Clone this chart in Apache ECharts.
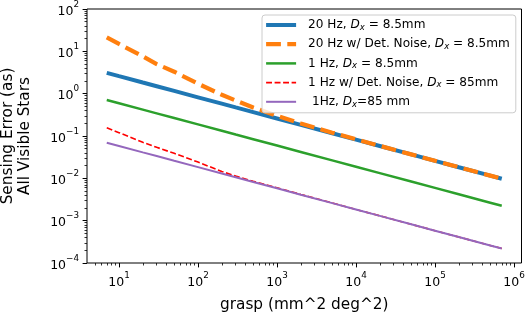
<!DOCTYPE html>
<html><head><meta charset="utf-8">
<script src="https://cdn.jsdelivr.net/npm/echarts@6/dist/echarts.min.js"></script>
<style>html,body{margin:0;padding:0;background:#fff}#c{width:526px;height:312px}</style>
</head><body><div id="c"></div>
<script>
// grasp values (mm^2 deg^2)
const grasp = [7, 10, 20, 30, 50, 100, 200, 300, 500, 1000, 2000, 5000, 1e4, 2e4, 5e4, 1e5, 2e5, 5e5, 7e5];
// Sensing error (as)
const hz20 = [3.10, 2.59, 1.83, 1.50, 1.16, 0.82, 0.58, 0.473, 0.367, 0.259, 0.183, 0.116, 0.082, 0.058, 0.0367, 0.0259, 0.0183, 0.0116, 0.0098];
const hz20Noise = [21.4, 15.0, 7.6, 5.0, 3.3, 1.72, 0.94, 0.69, 0.47, 0.30, 0.198, 0.120, 0.0833, 0.0585, 0.0368, 0.026, 0.0183, 0.0116, 0.0098];
const hz1 = [0.711, 0.595, 0.420, 0.343, 0.266, 0.188, 0.133, 0.1085, 0.0841, 0.0595, 0.0420, 0.0266, 0.0188, 0.0133, 0.00841, 0.00595, 0.0042, 0.00266, 0.00225];
const hz1Noise85 = [0.157, 0.120, 0.071, 0.054, 0.039, 0.0242, 0.0145, 0.0113, 0.0085, 0.0060, 0.00416, 0.00262, 0.00184, 0.0013, 0.00082, 0.00058, 0.00041, 0.00026, 0.00022];
const hz1D85 = [0.0695, 0.0582, 0.0411, 0.0336, 0.0260, 0.0184, 0.0130, 0.01062, 0.00823, 0.00582, 0.00411, 0.0026, 0.00184, 0.0013, 0.00082, 0.00058, 0.00041, 0.00026, 0.00022];

const seriesNames = [
  '20 Hz, D_x = 8.5mm',
  '20 Hz w/ Det. Noise, D_x = 8.5mm',
  '1 Hz, D_x = 8.5mm',
  '1 Hz w/ Det. Noise, D_x = 85mm',
  ' 1Hz, D_x=85 mm'
];
const seriesValues = [hz20, hz20Noise, hz1, hz1Noise85, hz1D85];

const xMajor = [10, 100, 1000, 1e4, 1e5, 1e6];
const yMajor = [1e-4, 1e-3, 1e-2, 1e-1, 1, 10, 100];

function minors(lo, hi) {
  const out = [];
  for (let e = lo; e <= hi; e++) for (let k = 2; k <= 9; k++) out.push(k * Math.pow(10, e));
  return out;
}
const xMinor = minors(0, 5).filter(v => v > 4 && v < 1.2e6);
const yMinor = minors(-4, 1);

const FONT = 'DejaVu Sans';
const styles = [
  { color: '#1f77b4', width: 4, type: 'solid' },
  { color: '#ff7f0e', width: 4.2, type: [14.8, 6.4] },
  { color: '#2ca02c', width: 2.5, type: 'solid' },
  { color: '#ff0000', width: 1.6, type: [5.9, 2.6] },
  { color: '#9467bd', width: 2, type: 'solid' }
];

function expLabel(v) {
  const e = Math.round(Math.log10(v));
  return '{b|10}{e|' + (e < 0 ? '\u2212' + (-e) : e) + '}';
}
const tickRich = {
  b: { fontFamily: FONT, fontSize: 12.5, color: '#000', lineHeight: 18, verticalAlign: 'bottom' },
  e: { fontFamily: FONT, fontSize: 8.8, color: '#000', lineHeight: 9, verticalAlign: 'top' }
};

function legendRich(name) {
  const p = name.split('D_x');
  return '{g|}{n|' + p[0] + '}{i|D}{s|x}{n|' + p[1] + '}';
}

const xMin = Math.pow(10, 0.595), xMax = Math.pow(10, 6.095);

const chart = echarts.init(document.getElementById('c'), null, { renderer: 'canvas' });
chart.setOption({
  animation: false,
  backgroundColor: '#fff',
  textStyle: { fontFamily: FONT },
  grid: { left: 87, right: 4.5, top: 9, bottom: 49, containLabel: false, outerBoundsMode: 'none',
    show: true, borderColor: '#000', borderWidth: 1, backgroundColor: 'transparent' },
  legend: {
    orient: 'vertical', left: 262, top: 15,
    padding: [4, 6, 4, 2], itemGap: 6.2, itemWidth: 30, itemHeight: 14,
    backgroundColor: 'rgba(255,255,255,0.8)', borderColor: '#cccccc', borderWidth: 1, borderRadius: 3,
    data: seriesNames,
    itemStyle: { opacity: 0 },
    lineStyle: { width: 'inherit' },
    formatter: legendRich,
    textStyle: {
      color: '#000',
      rich: {
        g: { width: 7 },
        n: { fontFamily: FONT, fontSize: 12.1, color: '#000', lineHeight: 14 },
        i: { fontFamily: FONT, fontSize: 12.1, fontStyle: 'italic', color: '#000', lineHeight: 14 },
        s: { fontFamily: FONT, fontSize: 8.5, fontStyle: 'italic', color: '#000', lineHeight: 6, verticalAlign: 'bottom' }
      }
    }
  },
  xAxis: [{
    type: 'log', logBase: 10, min: xMin, max: xMax, position: 'bottom',
    name: 'grasp (mm^2 deg^2)', nameLocation: 'middle', nameGap: 35,
    nameTextStyle: { fontFamily: FONT, fontSize: 15.3, color: '#000' },
    axisLine: { show: false },
    splitLine: { show: false },
    axisTick: { show: true, customValues: xMajor, length: 4.4, lineStyle: { color: '#000', width: 1 } },
    axisLabel: { customValues: xMajor, margin: 8, formatter: expLabel, rich: tickRich }
  }, {
    type: 'log', logBase: 10, min: xMin, max: xMax, position: 'bottom',
    axisLine: { show: false }, splitLine: { show: false }, axisLabel: { show: false },
    axisTick: { show: true, customValues: xMinor, length: 2.5, lineStyle: { color: '#000', width: 0.8 } }
  }],
  yAxis: [{
    type: 'log', logBase: 10, min: 1e-4, max: 100, position: 'left',
    name: 'Sensing Error (as)\nAll Visible Stars', nameLocation: 'middle', nameGap: 53,
    nameTextStyle: { fontFamily: FONT, fontSize: 15.3, color: '#000', lineHeight: 17.5, align: 'center' },
    axisLine: { show: false },
    splitLine: { show: false },
    axisTick: { show: true, customValues: yMajor, length: 4.4, lineStyle: { color: '#000', width: 1 } },
    axisLabel: { customValues: yMajor, margin: 8, formatter: expLabel, rich: tickRich }
  }, {
    type: 'log', logBase: 10, min: 1e-4, max: 100, position: 'left',
    axisLine: { show: false }, splitLine: { show: false }, axisLabel: { show: false },
    axisTick: { show: true, customValues: yMinor, length: 2.5, lineStyle: { color: '#000', width: 0.8 } }
  }],
  series: seriesNames.map((name, i) => ({
    name: name,
    type: 'line',
    xAxisIndex: 0, yAxisIndex: 0,
    symbol: 'none', showSymbol: false,
    lineStyle: styles[i],
    itemStyle: { color: styles[i].color },
    emphasis: { disabled: true },
    data: grasp.map((g, j) => [g, seriesValues[i][j]])
  }))
});
</script>
</body></html>
